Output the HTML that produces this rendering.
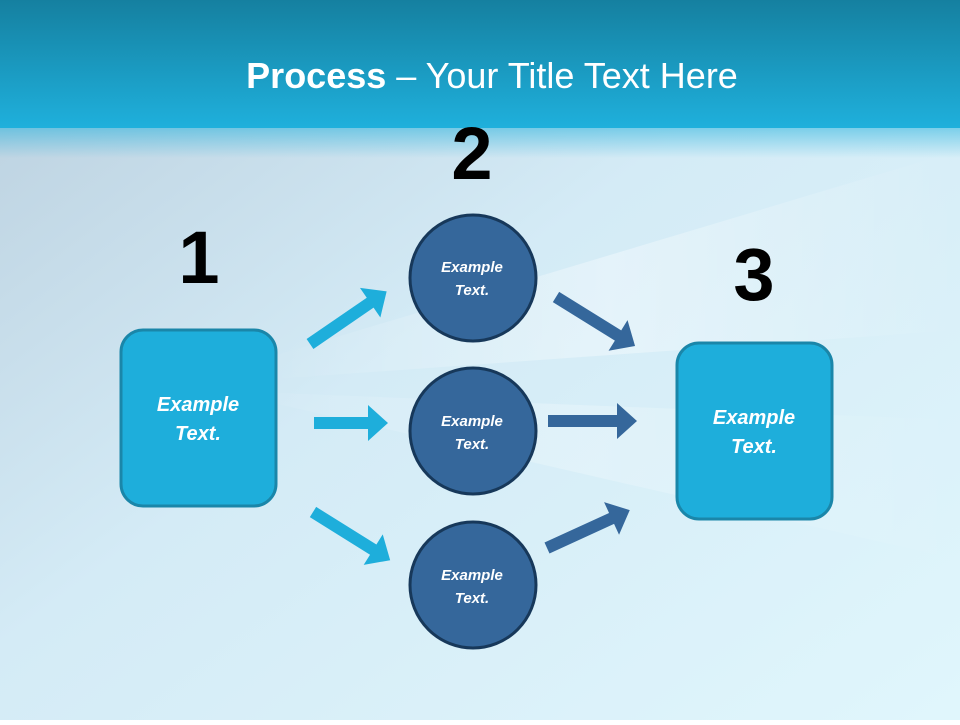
<!DOCTYPE html>
<html><head><meta charset="utf-8"><style>
html,body{margin:0;padding:0}
body{width:960px;height:720px;overflow:hidden}
</style></head><body>
<svg width="960" height="720" xmlns="http://www.w3.org/2000/svg" font-family="Liberation Sans, DejaVu Sans, sans-serif">
<defs>
<linearGradient id="hdr" x1="0" y1="0" x2="0" y2="1">
<stop offset="0" stop-color="#1580a0"/><stop offset="1" stop-color="#1fb0dc"/>
</linearGradient>
<linearGradient id="bg" x1="0" y1="0" x2="1" y2="1">
<stop offset="0" stop-color="#b9cedd"/><stop offset="0.45" stop-color="#d4ebf6"/><stop offset="1" stop-color="#e0f6fc"/>
</linearGradient>
<linearGradient id="fade" x1="0" y1="0" x2="0" y2="1">
<stop offset="0" stop-color="#1fb0dc"/><stop offset="1" stop-color="#1fb0dc" stop-opacity="0"/>
</linearGradient>
<linearGradient id="streak" x1="0" y1="0" x2="1" y2="0">
<stop offset="0" stop-color="#fff" stop-opacity="0"/><stop offset="0.5" stop-color="#fff" stop-opacity="0.6"/><stop offset="1" stop-color="#fff" stop-opacity="0"/>
</linearGradient>
</defs>
<rect width="960" height="720" fill="url(#bg)"/>
<polygon points="260,360 960,150 960,330 260,380" fill="url(#streak)" opacity="0.6"/>
<polygon points="200,390 960,420 960,560 260,400" fill="url(#streak)" opacity="0.4"/>
<rect width="960" height="128" fill="url(#hdr)"/>
<rect y="128" width="960" height="30" fill="url(#fade)" opacity="0.5"/>
<text x="492" y="88" text-anchor="middle" fill="#fff" font-size="36"><tspan font-weight="bold">Process</tspan> – Your Title Text Here</text>

<g font-weight="bold" font-size="74" fill="#000" text-anchor="middle">
<text x="199" y="283">1</text>
<text x="472" y="179">2</text>
<text x="754" y="300">3</text>
</g>

<g fill="#1eaedb">
<polygon points="0,-6 -20,-6 -20,-18 0,0 -20,18 -20,6 0,6" transform="translate(0,0)" style="display:none"/>
<g transform="translate(310,344) rotate(-34.5)"><polygon points="0,-6 73,-6 73,-18 93,0 73,18 73,6 0,6"/></g>
<g transform="translate(314,423)"><polygon points="0,-6 54,-6 54,-18 74,0 54,18 54,6 0,6"/></g>
<g transform="translate(313,512) rotate(32)"><polygon points="0,-6 71,-6 71,-18 91,0 71,18 71,6 0,6"/></g>
</g>
<g fill="#35679b">
<g transform="translate(556,297) rotate(31.8)"><polygon points="0,-6 73,-6 73,-18 93,0 73,18 73,6 0,6"/></g>
<g transform="translate(548,421)"><polygon points="0,-6 69,-6 69,-18 89,0 69,18 69,6 0,6"/></g>
<g transform="translate(547,548) rotate(-24.6)"><polygon points="0,-6 71,-6 71,-18 91,0 71,18 71,6 0,6"/></g>
</g>

<rect x="121" y="330" width="155" height="176" rx="22" fill="#1eaedb" stroke="#1a86a9" stroke-width="3"/>
<rect x="677" y="343" width="155" height="176" rx="22" fill="#1eaedb" stroke="#1a86a9" stroke-width="3"/>
<g fill="#fff" font-weight="bold" font-style="italic" font-size="20" text-anchor="middle">
<text x="198" y="411">Example</text><text x="198" y="440">Text.</text>
<text x="754" y="424">Example</text><text x="754" y="453">Text.</text>
</g>

<g fill="#35679b" stroke="#17385a" stroke-width="3">
<circle cx="473" cy="278" r="63"/>
<circle cx="473" cy="431" r="63"/>
<circle cx="473" cy="585" r="63"/>
</g>
<g fill="#fff" font-weight="bold" font-style="italic" font-size="15" text-anchor="middle">
<text x="472" y="272">Example</text><text x="472" y="295">Text.</text>
<text x="472" y="426">Example</text><text x="472" y="449">Text.</text>
<text x="472" y="580">Example</text><text x="472" y="603">Text.</text>
</g>
</svg>
</body></html>
